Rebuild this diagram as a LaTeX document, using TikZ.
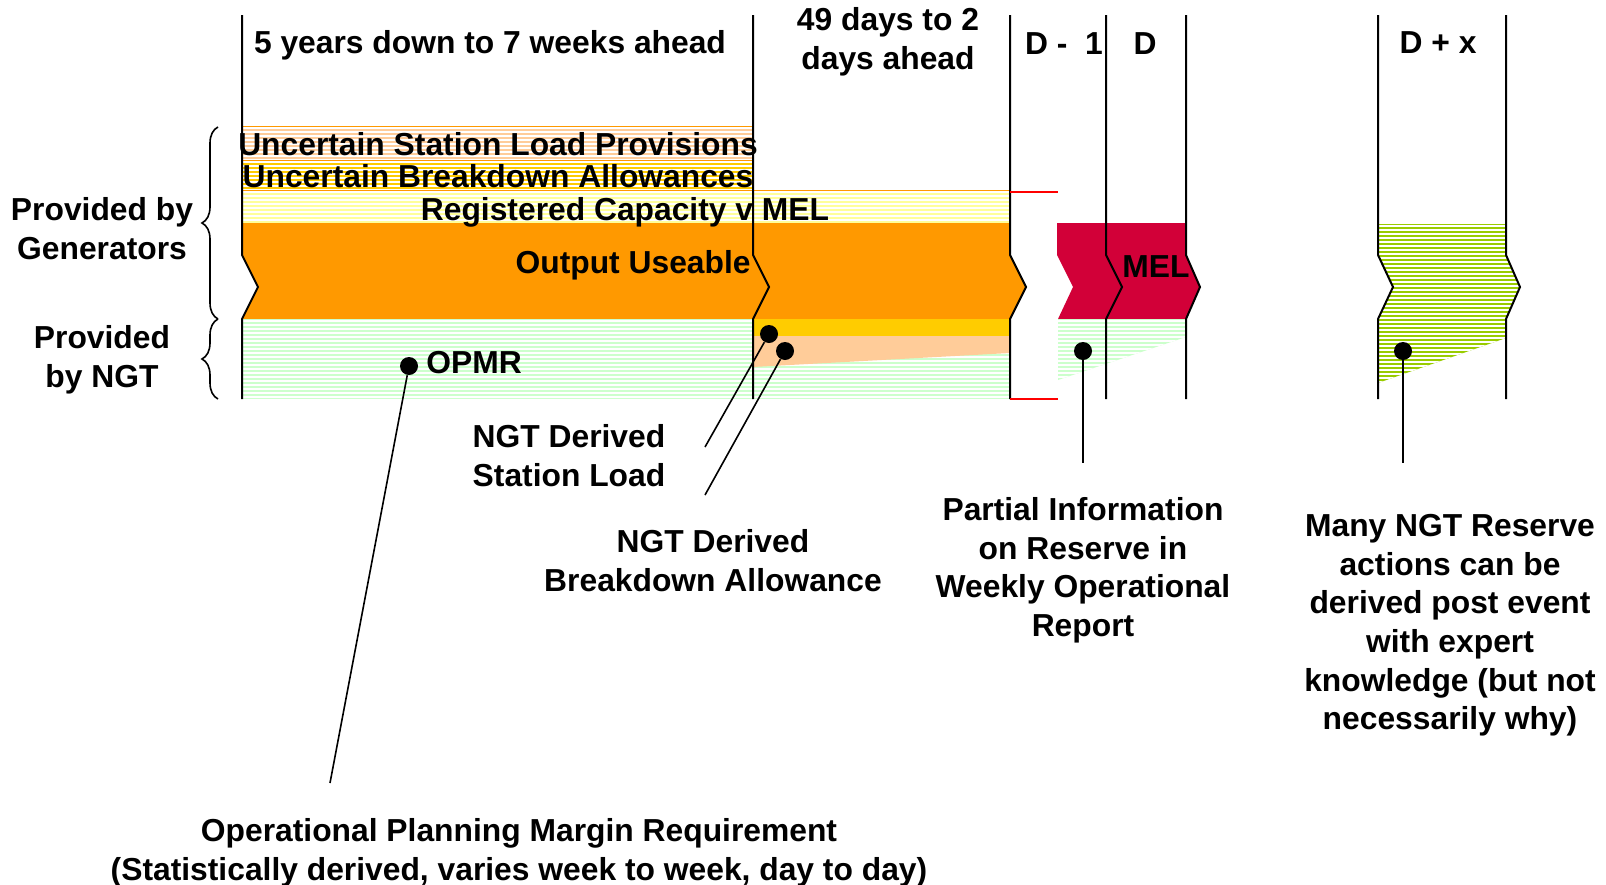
\documentclass[tikz,border=0pt]{standalone}
\usepackage{fontspec}
\setmainfont{Liberation Sans}
\usepackage{tikz}
\usetikzlibrary{calc, positioning, decorations.pathreplacing}
\definecolor{bandorange}{HTML}{FF9900}
\definecolor{bandgold}{HTML}{FFCC00}
\definecolor{bandpeach}{HTML}{FFCC99}
\definecolor{bandyellow}{HTML}{FFFF99}
\definecolor{bandgreen}{HTML}{CCFFCC}
\definecolor{bandred}{HTML}{D20038}
\definecolor{bandlime}{HTML}{99CC00}
\tikzstyle{txt} = [font=\fontsize{15.9}{19.3}\selectfont\bfseries, inner sep=0pt, align=center]
\tikzstyle{stripes} = [path picture={\foreach \k in {2,6,...,170} \draw[white, line width=0.6pt] ([yshift=-\k*0.5pt]path picture bounding box.north west) -- ([yshift=-\k*0.5pt]path picture bounding box.north east);}]
\tikzstyle{timeline} = [line width=1pt, black]
\tikzstyle{leader} = [line width=0.8pt]
\tikzstyle{dot} = [circle, fill=black, minimum size=9pt, inner sep=0pt]
\tikzstyle{bracket} = [decorate, decoration={brace, amplitude=8pt}, line width=0.8pt]

\begin{document}
\begin{tikzpicture}[x=0.5pt, y=-0.5pt]
	\useasboundingbox (0,0) rectangle (1606,884);
	% bands provided by generators
	\draw[fill=bandpeach, draw=bandorange, line width=0.5pt, stripes] (242,126) rectangle (753,160);
	\draw[fill=bandgold, draw=bandorange, line width=0.5pt, stripes] (242,160) rectangle (753,190);
	\draw[fill=bandyellow, draw=bandorange, line width=0.5pt, stripes] (242,190) rectangle (1010,223);
	\fill[bandorange] (242,223) -- (1010,223) -- (1010,255) -- (1026,287) -- (1010,319) -- (242,319) -- (258,287) -- (242,255) -- cycle;
	% bands provided by NGT
	\fill[bandgreen, stripes] (242,319) rectangle (1010,399);
	\fill[bandgold] (753,319) rectangle (1010,336);
	\fill[bandpeach] (753,336) -- (1010,336) -- (1010,353) -- (753,367) -- cycle;
	\fill[bandred] (1057,223) -- (1186,223) -- (1186,255) -- (1200,287) -- (1186,319) -- (1058,319) -- (1073,287) -- (1057,255) -- cycle;
	\fill[bandgreen, stripes] (1058,319) -- (1186,319) -- (1186,337) -- (1058,380) -- cycle;
	\fill[bandlime, stripes] (1378,224) -- (1506,224) -- (1506,255) -- (1520,288) -- (1506,318) -- (1506,338) -- (1378,383) -- (1378,318) -- (1393,288) -- (1378,255) -- cycle;
	% time lines
	\foreach \xa/\d in {242/16, 753/16, 1010/16, 1106/16, 1186/14, 1378/15, 1506/14}
		\draw[timeline] (\xa,15) -- (\xa,255) -- (\xa+\d,287) -- (\xa,319) -- (\xa,399);
	\draw[red, line width=1pt] (1010,192) -- (1058,192);
	\draw[red, line width=1pt] (1010,399) -- (1058,399);
	\draw[bracket] (218,319) -- (218,127);
	\draw[bracket] (218,399) -- (218,319);
	% headers
	\node[txt, anchor=base] (hdrYears) at (490,53) {5 years down to 7 weeks ahead};
	\node[txt, anchor=north] (hdrDays) at (888,7) {49 days to 2\\days ahead};
	\node[txt, anchor=base] (hdrDm) at (1064,54) {D -\ \ 1};
	\node[txt, anchor=base] (hdrD) at (1145,54) {D};
	\node[txt, anchor=base] (hdrDx) at (1438,53) {D + x};
	\node[txt, anchor=north] (provGen) at (102,197) {Provided by\\Generators};
	\node[txt, anchor=north] (provNGT) at (102,325) {Provided\\by NGT};
	% band texts
	\node[txt, anchor=base] (slp) at (498,155) {Uncertain Station Load Provisions};
	\node[txt, anchor=base] (uba) at (498,187) {Uncertain Breakdown Allowances};
	\node[txt, anchor=base] (rcm) at (625,220) {Registered Capacity v MEL};
	\node[txt, anchor=base east] (useable) at (751,273) {Output Useable};
	\node[txt, anchor=base] (mel) at (1156,277) {MEL};
	\node[txt, anchor=base west] (opmr) at (426,373) {OPMR};
	% notes
	\node[txt, anchor=north] (ngtSL) at (569,424) {NGT Derived\\Station Load};
	\node[txt, anchor=north] (ngtBA) at (713,529) {NGT Derived\\Breakdown Allowance};
	\node[txt, anchor=north] (weekly) at (1083,497) {Partial Information\\on Reserve in\\Weekly Operational\\Report};
	\node[txt, anchor=north] (post) at (1450,514) {Many NGT Reserve\\actions can be\\derived post event\\with expert\\knowledge (but not\\necessarily why)};
	\node[txt, anchor=north] (opmrNote) at (519,818) {Operational Planning Margin Requirement\\(Statistically derived, varies week to week, day to day)};
	% dots and leaders
	\node[dot] (dotOPMR) at (409,366) {};
	\node[dot] (dotSL) at (769,334) {};
	\node[dot] (dotBA) at (785,351) {};
	\node[dot] (dotWeekly) at (1083,351) {};
	\node[dot] (dotPost) at (1403,351) {};
	\coordinate (endOPMR) at (330,783);
	\coordinate (endSL) at (705,447);
	\coordinate (endBA) at (705,495);
	\coordinate (endWeekly) at (1083,463);
	\coordinate (endPost) at (1403,463);
	\draw[leader] (dotOPMR) -- (endOPMR);
	\draw[leader] (dotSL) -- (endSL);
	\draw[leader] (dotBA) -- (endBA);
	\draw[leader] (dotWeekly) -- (endWeekly);
	\draw[leader] (dotPost) -- (endPost);
\end{tikzpicture}
\end{document}
